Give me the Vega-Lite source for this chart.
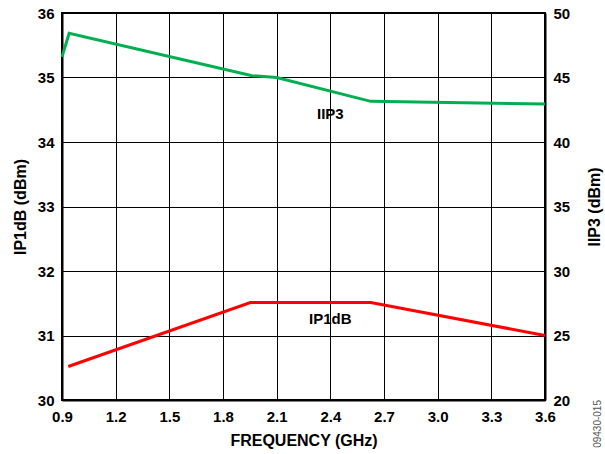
{
  "$schema": "https://vega.github.io/schema/vega-lite/v6.json",
  "width": 483,
  "height": 387,
  "autosize": {"type": "none"},
  "padding": {"left": 62, "top": 13, "right": 60, "bottom": 54},
  "background": "white",
  "title": {
    "text": "09430-015",
    "orient": "right",
    "anchor": "end",
    "frame": "group",
    "angle": -90,
    "align": "right",
    "baseline": "middle",
    "fontSize": 10,
    "fontWeight": "normal",
    "font": "Liberation Sans",
    "color": "#555555",
    "offset": -15
  },
  "config": {
    "font": "Liberation Sans",
    "view": {"stroke": "black", "strokeWidth": 2},
    "axis": {
      "labelFont": "Liberation Sans",
      "labelFontSize": 15,
      "labelFontWeight": "bold",
      "labelColor": "black",
      "labelFlush": false,
      "labelOverlap": false,
      "titleFont": "Liberation Sans",
      "titleFontSize": 16,
      "titleFontWeight": "bold",
      "titleColor": "black",
      "ticks": false,
      "domainColor": "black",
      "domainWidth": 2,
      "gridColor": "black",
      "gridWidth": 1,
      "gridOpacity": 1
    }
  },
  "datasets": {
    "ip1db": [
      {"freq": 0.935, "ip1db": 30.52},
      {"freq": 1.953, "ip1db": 31.51},
      {"freq": 2.626, "ip1db": 31.51},
      {"freq": 3.6, "ip1db": 31.0}
    ],
    "iip3": [
      {"freq": 0.9, "iip3": 46.6},
      {"freq": 0.94, "iip3": 48.43},
      {"freq": 1.963, "iip3": 45.14},
      {"freq": 2.1, "iip3": 45.0},
      {"freq": 2.626, "iip3": 43.15},
      {"freq": 3.6, "iip3": 42.95}
    ],
    "ip1dbLabel": [{"freq": 2.4, "ip1db": 31.26, "label": "IP1dB"}],
    "iip3Label": [{"freq": 2.4, "iip3": 42.17, "label": "IIP3"}]
  },
  "encoding": {
    "x": {
      "field": "freq",
      "type": "quantitative",
      "scale": {"domain": [0.9, 3.6], "nice": false, "zero": false},
      "axis": {
        "title": "FREQUENCY (GHz)",
        "values": [0.9, 1.2, 1.5, 1.8, 2.1, 2.4, 2.7, 3.0, 3.3, 3.6],
        "format": ".1f",
        "labelPadding": 9,
        "titlePadding": 8,
        "grid": true
      }
    }
  },
  "layer": [
    {
      "encoding": {
        "y": {
          "field": "ip1db",
          "type": "quantitative",
          "scale": {"domain": [30, 36], "nice": false, "zero": false},
          "axis": {
            "title": "IP1dB (dBm)",
            "orient": "left",
            "values": [30, 31, 32, 33, 34, 35, 36],
            "labelPadding": 8,
            "titlePadding": 9,
            "grid": true
          }
        }
      },
      "layer": [
        {
          "data": {"name": "ip1db"},
          "mark": {"type": "line", "color": "#ff0000", "strokeWidth": 3}
        },
        {
          "data": {"name": "ip1dbLabel"},
          "mark": {"type": "text", "fontSize": 15, "fontWeight": "bold", "color": "black", "font": "Liberation Sans"},
          "encoding": {"text": {"field": "label"}}
        }
      ]
    },
    {
      "encoding": {
        "y": {
          "field": "iip3",
          "type": "quantitative",
          "scale": {"domain": [20, 50], "nice": false, "zero": false},
          "axis": {
            "title": "IIP3 (dBm)",
            "orient": "right",
            "values": [20, 25, 30, 35, 40, 45, 50],
            "labelPadding": 8,
            "titlePadding": 33,
            "titleAngle": 270,
            "grid": false
          }
        }
      },
      "layer": [
        {
          "data": {"name": "iip3"},
          "mark": {"type": "line", "color": "#00b050", "strokeWidth": 3}
        },
        {
          "data": {"name": "iip3Label"},
          "mark": {"type": "text", "fontSize": 15, "fontWeight": "bold", "color": "black", "font": "Liberation Sans"},
          "encoding": {"text": {"field": "label"}}
        }
      ]
    }
  ],
  "resolve": {"scale": {"y": "independent"}}
}
